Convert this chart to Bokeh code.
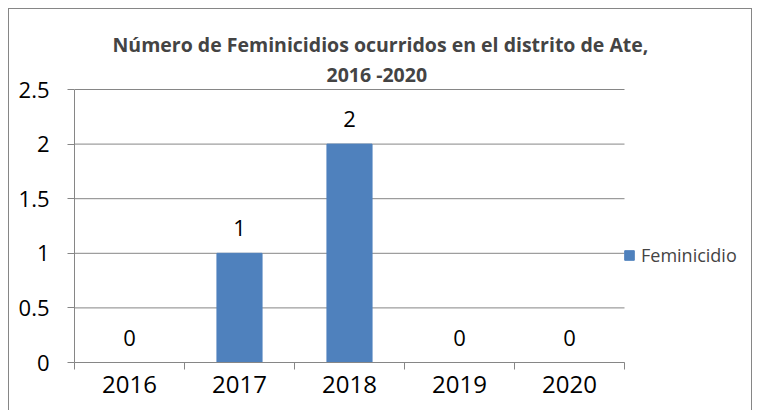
from bokeh.plotting import figure
from bokeh.models import (ColumnDataSource, FixedTicker, LabelSet, Legend, LegendItem,
                          Title, Range1d)
from bokeh.core.properties import value
from bokeh.embed import file_html
from bokeh.resources import INLINE

years = ["2016", "2017", "2018", "2019", "2020"]
feminicidio = [0, 1, 2, 0, 0]
y_ticks = [0, 0.5, 1, 1.5, 2, 2.5]
y_tick_labels = ["0", "0.5", "1", "1.5", "2", "2.5"]
title_line1 = "Número de Feminicidios ocurridos en el distrito de Ate,"
title_line2 = "2016 -2020"
series_name = "Feminicidio"

FONT = "Open Sans"
GREY = "#868686"
BLUE = "#4F81BD"

n = len(years)
xpos = list(range(1, n + 1))
src = ColumnDataSource(dict(x=xpos, top=feminicidio,
                            lbl=[str(v) for v in feminicidio]))

# layout (pixels)
W, H = 744, 402
LEFT, RIGHT, TOP_PAD = 65, 2, 2
PLOT_W_CATS = 550          # pixel width occupied by the categories
PLOT_H = 273               # pixel height of 0..2.5
frame_w = W - LEFT - RIGHT
x_end = 0.5 + frame_w * n / PLOT_W_CATS
y_max = y_ticks[-1]
y_end = y_max + TOP_PAD * y_max / PLOT_H

p = figure(width=W, height=H, output_backend="svg", toolbar_location=None,
           x_range=Range1d(0.5, x_end), y_range=Range1d(0, y_end),
           min_border_left=LEFT, min_border_right=RIGHT, min_border_top=78,
           min_border_bottom=H - 353, margin=(8, 0, 0, 8))
p.title = None
p.outline_line_color = None
p.background_fill_color = "white"
p.border_fill_color = "white"
p.styles = {"border-top": f"1px solid {GREY}", "border-left": f"1px solid {GREY}",
            "border-right": f"1px solid {GREY}"}

# horizontal gridlines limited to the category area
p.xgrid.grid_line_color = None
p.ygrid.grid_line_color = None
p.segment(x0=[0.5] * len(y_ticks), x1=[n + 0.5] * len(y_ticks), y0=y_ticks, y1=y_ticks,
          line_color=GREY, line_width=1)

r = p.vbar(x="x", top="top", width=0.41, source=src, fill_color=BLUE, line_color=BLUE)

# x axis: labels at category centres, tick marks at category boundaries
xt = FixedTicker(ticks=xpos, minor_ticks=[i + 0.5 for i in range(0, n + 1)])
p.xaxis.ticker = xt
p.xaxis.bounds = (0.5, n + 0.5)
p.xaxis.major_label_overrides = {x: y for x, y in zip(xpos, years)}
p.xaxis.major_tick_in = 0
p.xaxis.major_tick_out = 0
p.xaxis.minor_tick_in = 0
p.xaxis.minor_tick_out = 7
p.xaxis.minor_tick_line_color = GREY
p.xaxis.axis_line_color = GREY
p.xaxis.major_label_text_font = FONT
p.xaxis.major_label_text_font_size = "24px"
p.xaxis.major_label_text_color = "black"
p.xaxis.major_label_standoff = 6

p.yaxis.ticker = FixedTicker(ticks=y_ticks, minor_ticks=[])
p.yaxis.bounds = (0, y_max)
p.yaxis.major_label_overrides = {t: l for t, l in zip(y_ticks, y_tick_labels)}
p.yaxis.major_tick_in = 0
p.yaxis.major_tick_out = 7
p.yaxis.major_tick_line_color = GREY
p.yaxis.axis_line_color = GREY
p.yaxis.major_label_text_font = FONT
p.yaxis.major_label_text_font_size = "22px"
p.yaxis.major_label_text_color = "black"
p.yaxis.major_label_standoff = 18

labels = LabelSet(x="x", y="top", text="lbl", source=src, y_offset=25,
                  text_align="center", text_baseline="middle",
                  text_font=value(FONT), text_font_size=value("22px"),
                  text_color="black")
p.add_layout(labels)

legend = Legend(items=[LegendItem(label=series_name, renderers=[r])],
                location=(549, 95), padding=0, margin=0, spacing=0,
                glyph_width=12, glyph_height=12, label_standoff=6,
                label_text_font=FONT, label_text_font_size="18px",
                border_line_color=None, background_fill_alpha=0)
p.add_layout(legend, "center")

t2 = Title(text=title_line2, align="left", offset=252, text_font=FONT,
           text_font_size="19.5px", text_font_style="bold", standoff=0)
t1 = Title(text=title_line1, align="left", offset=38, text_font=FONT,
           text_font_size="19.5px", text_font_style="bold", standoff=2)
p.add_layout(t2, "above")
p.add_layout(t1, "above")

open("out.html", "w").write(file_html(p, INLINE))
